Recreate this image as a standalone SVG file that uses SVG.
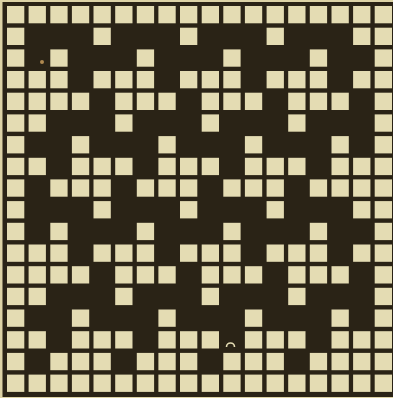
<svg xmlns="http://www.w3.org/2000/svg" xmlns:xlink="http://www.w3.org/1999/xlink" width="393" height="398" viewBox="0 0 393 398">
<style>
.bg{fill:#ddd3a6}
.frame{fill:#2a2316}
.cell{fill:#e4dcb3}
.mark{fill:none;stroke:#e4dcb3;stroke-width:1.6}
</style>
<defs>
<rect id="c" width="17.3" height="17.3" class="cell"/>
<g id="rAll"><use href="#c" x="7"/><use href="#c" x="28.6"/><use href="#c" x="50.3"/><use href="#c" x="71.9"/><use href="#c" x="93.5"/><use href="#c" x="115.2"/><use href="#c" x="136.8"/><use href="#c" x="158.4"/><use href="#c" x="180"/><use href="#c" x="201.7"/><use href="#c" x="223.3"/><use href="#c" x="244.9"/><use href="#c" x="266.6"/><use href="#c" x="288.2"/><use href="#c" x="309.8"/><use href="#c" x="331.5"/><use href="#c" x="353.1"/><use href="#c" x="374.7"/></g>
<g id="r2"><use href="#c" x="7"/><use href="#c" x="93.5"/><use href="#c" x="180"/><use href="#c" x="266.6"/><use href="#c" x="353.1"/><use href="#c" x="374.7"/></g>
<g id="r3"><use href="#c" x="7"/><use href="#c" x="50.3"/><use href="#c" x="136.8"/><use href="#c" x="223.3"/><use href="#c" x="309.8"/><use href="#c" x="374.7"/></g>
<g id="r4"><use href="#c" x="7"/><use href="#c" x="28.6"/><use href="#c" x="50.3"/><use href="#c" x="93.5"/><use href="#c" x="115.2"/><use href="#c" x="136.8"/><use href="#c" x="180"/><use href="#c" x="201.7"/><use href="#c" x="223.3"/><use href="#c" x="266.6"/><use href="#c" x="288.2"/><use href="#c" x="309.8"/><use href="#c" x="353.1"/><use href="#c" x="374.7"/></g>
<g id="r5"><use href="#c" x="7"/><use href="#c" x="28.6"/><use href="#c" x="50.3"/><use href="#c" x="71.9"/><use href="#c" x="115.2"/><use href="#c" x="136.8"/><use href="#c" x="158.4"/><use href="#c" x="201.7"/><use href="#c" x="223.3"/><use href="#c" x="244.9"/><use href="#c" x="288.2"/><use href="#c" x="309.8"/><use href="#c" x="331.5"/><use href="#c" x="374.7"/></g>
<g id="r6"><use href="#c" x="7"/><use href="#c" x="28.6"/><use href="#c" x="115.2"/><use href="#c" x="201.7"/><use href="#c" x="288.2"/><use href="#c" x="374.7"/></g>
<g id="r7"><use href="#c" x="7"/><use href="#c" x="71.9"/><use href="#c" x="158.4"/><use href="#c" x="244.9"/><use href="#c" x="331.5"/><use href="#c" x="374.7"/></g>
<g id="r8"><use href="#c" x="7"/><use href="#c" x="28.6"/><use href="#c" x="71.9"/><use href="#c" x="93.5"/><use href="#c" x="115.2"/><use href="#c" x="158.4"/><use href="#c" x="180"/><use href="#c" x="201.7"/><use href="#c" x="244.9"/><use href="#c" x="266.6"/><use href="#c" x="288.2"/><use href="#c" x="331.5"/><use href="#c" x="353.1"/><use href="#c" x="374.7"/></g>
<g id="r9"><use href="#c" x="7"/><use href="#c" x="50.3"/><use href="#c" x="71.9"/><use href="#c" x="93.5"/><use href="#c" x="136.8"/><use href="#c" x="158.4"/><use href="#c" x="180"/><use href="#c" x="223.3"/><use href="#c" x="244.9"/><use href="#c" x="266.6"/><use href="#c" x="309.8"/><use href="#c" x="331.5"/><use href="#c" x="353.1"/><use href="#c" x="374.7"/></g>
</defs>
<rect class="bg" x="0" y="0" width="393" height="398"/>
<rect class="frame" x="2.5" y="2" width="390.5" height="395"/>
<g id="grid">
<use href="#rAll" y="6"/>
<use href="#r2" y="27.7"/>
<use href="#r3" y="49.4"/>
<use href="#r4" y="71"/>
<use href="#r5" y="92.7"/>
<use href="#r6" y="114.4"/>
<use href="#r7" y="136.1"/>
<use href="#r8" y="157.8"/>
<use href="#r9" y="179.4"/>
<use href="#r2" y="201.1"/>
<use href="#r3" y="222.8"/>
<use href="#r4" y="244.5"/>
<use href="#r5" y="266.2"/>
<use href="#r6" y="287.8"/>
<use href="#r7" y="309.5"/>
<use href="#r8" y="331.2"/>
<use href="#r9" y="352.9"/>
<use href="#rAll" y="374.6"/>
</g>
<path class="mark" d="M226.5 347 A4 4 0 0 1 234.5 347"/>
<circle cx="42" cy="62" r="2" fill="#b08a50"/>
</svg>
